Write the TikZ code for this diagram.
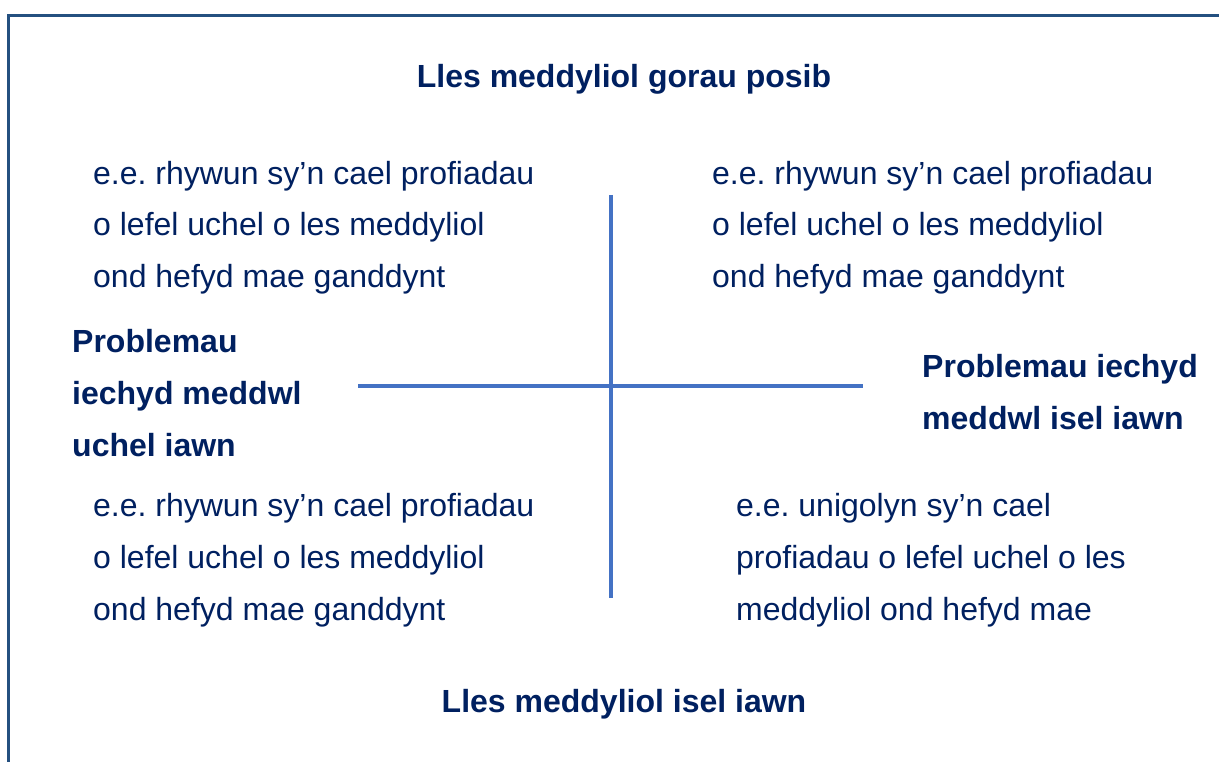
\documentclass[tikz,border=0pt]{standalone}
\usepackage{fontspec}
\setmainfont{Liberation Sans}
\frenchspacing
\definecolor{navy}{RGB}{0,32,96}
\definecolor{frameblue}{RGB}{36,80,128}
\definecolor{axisblue}{RGB}{68,114,196}
\tikzset{
  body/.style={anchor=base west, inner sep=0pt, align=left, text=navy,
    font=\fontsize{32}{52}\selectfont\frenchspacing},
  label/.style={body, font=\fontsize{32}{52}\selectfont\bfseries},
  title/.style={anchor=base, inner sep=0pt, text=navy, font=\fontsize{32}{52}\selectfont\bfseries},
  axis/.style={draw=axisblue, line width=3.5pt},
  frame/.style={draw=frameblue, line width=3pt}
}
\begin{document}
\begin{tikzpicture}[x=1pt,y=-1pt]
\useasboundingbox (0,0) rectangle (1219,762);
\coordinate (fb) at (8.7,764);
\coordinate (fc) at (8.7,15.7);
\coordinate (fr) at (1222,15.7);
\draw[frame] (fb) -- (fc) -- (fr);
\coordinate (vt) at (611,195);
\coordinate (vb) at (611,598);
\coordinate (hl) at (358,386);
\coordinate (hr) at (863,386);
\draw[axis] (vt) -- (vb);
\draw[axis] (hl) -- (hr);
\node[title] (top) at (624,88) {Lles meddyliol gorau posib};
\node[title] (bottom) at (624,712) {Lles meddyliol isel iawn};
\node[body] (tl) at (93,288) {e.e. rhywun sy’n cael profiadau\\o lefel uchel o les meddyliol\\ond hefyd mae ganddynt};
\node[body] (tr) at (712,288) {e.e. rhywun sy’n cael profiadau\\o lefel uchel o les meddyliol\\ond hefyd mae ganddynt};
\node[label] (left) at (72,456) {Problemau\\iechyd meddwl\\uchel iawn};
\node[label] (right) at (922,429) {Problemau iechyd\\meddwl isel iawn};
\node[body] (bl) at (93,620) {e.e. rhywun sy’n cael profiadau\\o lefel uchel o les meddyliol\\ond hefyd mae ganddynt};
\node[body] (br) at (736,620) {e.e. unigolyn sy’n cael\\profiadau o lefel uchel o les\\meddyliol ond hefyd mae};
\end{tikzpicture}
\end{document}
